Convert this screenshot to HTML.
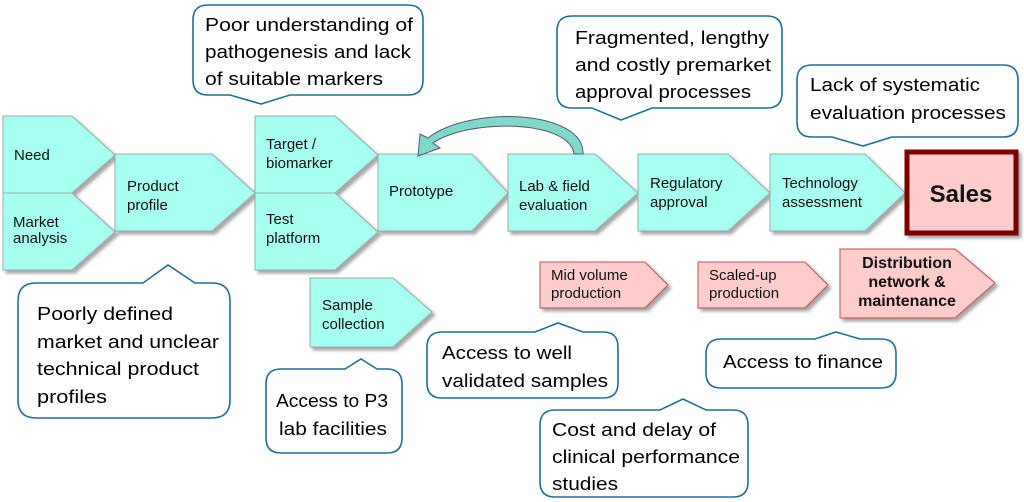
<!DOCTYPE html>
<html><head><meta charset="utf-8"><style>
html,body{margin:0;padding:0;background:#fff;}
svg{display:block;}
.b{fill:#a6fff0;stroke:#9aa;stroke-width:1;}
.p{fill:#ffcccc;stroke:#c05050;stroke-width:1;}
.t{font-family:"Liberation Sans",sans-serif;font-size:15px;fill:#111;}
.c{fill:#fff;stroke:#1f6f9a;stroke-width:1.6;}
.ct{font-family:"Liberation Sans",sans-serif;font-size:18px;fill:#000;}
</style></head><body>
<svg width="1024" height="502" viewBox="0 0 1024 502" xmlns="http://www.w3.org/2000/svg">
<defs><filter id="sh" x="-10%" y="-10%" width="130%" height="130%"><feDropShadow dx="3" dy="3" stdDeviation="1.5" flood-color="#000" flood-opacity="0.35"/></filter></defs>
<g filter="url(#sh)">
<path class="b" d="M3,116 H72 L115,155 L72,193 H3 Z"/>
<path class="b" d="M3,193 H72 L115,232 L72,270 H3 Z"/>
<path class="b" d="M115,154 H212 L255,193 L212,231 H115 Z"/>
<path class="b" d="M255,116 H335 L378,155 L335,193 H255 Z"/>
<path class="b" d="M255,193 H335 L378,232 L335,270 H255 Z"/>
<path class="b" d="M378,154 H472 L508,193 L472,231 H378 Z"/>
<path class="b" d="M508,154 H595 L638,193 L595,231 H508 Z"/>
<path class="b" d="M638,154 H728 L770,193 L728,231 H638 Z"/>
<path class="b" d="M770,154 H865 L905,193 L865,231 H770 Z"/>
<path class="b" d="M310,278 H393 L432,312 L393,347 H310 Z"/>
<path class="p" d="M540,262 H645 L668,285 L645,308 H540 Z"/>
<path class="p" d="M698,262 H805 L828,285 L805,308 H698 Z"/>
<path class="p" d="M840,249 H955 L995,283 L955,318 H840 Z"/>
<rect x="907" y="152" width="109" height="81" fill="#ffcccc" stroke="#7a0000" stroke-width="5"/>
</g>
<path d="M583,154 C585,110 470,105 428,138 L420,134 L418,156 L440,148 L433,143 C470,118 570,120 574,154 Z" fill="#80d8c8" stroke="#557" stroke-width="1"/>
<g class="t">
<text x="14" y="160">Need</text>
<text x="13" y="227">Market</text><text x="13" y="243">analysis</text>
<text x="127" y="191">Product</text><text x="127" y="210">profile</text>
<text x="266" y="149">Target /</text><text x="266" y="168">biomarker</text>
<text x="266" y="224">Test</text><text x="266" y="243">platform</text>
<text x="389" y="196">Prototype</text>
<text x="519" y="191">Lab &amp; field</text><text x="519" y="210">evaluation</text>
<text x="650" y="188">Regulatory</text><text x="650" y="207">approval</text>
<text x="782" y="188">Technology</text><text x="782" y="207">assessment</text>
<text x="322" y="310">Sample</text><text x="322" y="329">collection</text>
<text x="551" y="280">Mid volume</text><text x="551" y="298">production</text>
<text x="709" y="280">Scaled-up</text><text x="709" y="298">production</text>
<g font-weight="bold" text-anchor="middle" font-size="16"><text x="907" y="268">Distribution</text><text x="907" y="287">network &amp;</text><text x="907" y="306">maintenance</text></g>
<text x="961" y="202" font-size="24" font-weight="bold" text-anchor="middle">Sales</text>
</g>
<path class="c" d="M208,5 H408 Q423,5 423,20 V80 Q423,95 408,95 H290 L261,104 L230,95 H208 Q193,95 193,80 V20 Q193,5 208,5 Z"/>
<path class="c" d="M572,16 H767 Q782,16 782,31 V93 Q782,108 767,108 H652 L621,120 L592,108 H572 Q557,108 557,93 V31 Q557,16 572,16 Z"/>
<path class="c" d="M812,65 H1003 Q1018,65 1018,80 V122 Q1018,137 1003,137 H892 L863,146 L832,137 H812 Q797,137 797,122 V80 Q797,65 812,65 Z"/>
<path class="c" d="M36,283 H143 L168,265 L195,283 H212 Q230,283 230,301 V400 Q230,418 212,418 H36 Q18,418 18,400 V301 Q18,283 36,283 Z"/>
<path class="c" d="M281,369 H345 L361,359 L377,369 H387 Q402,369 402,384 V438 Q402,453 387,453 H281 Q266,453 266,438 V384 Q266,369 281,369 Z"/>
<path class="c" d="M442,332 H535 L558,323 L583,332 H603 Q618,332 618,347 V383 Q618,398 603,398 H442 Q427,398 427,383 V347 Q427,332 442,332 Z"/>
<path class="c" d="M555,410 H660 L683,399 L706,410 H733 Q748,410 748,425 V482 Q748,497 733,497 H555 Q540,497 540,482 V425 Q540,410 555,410 Z"/>
<path class="c" d="M721,339 H815 L836,332 L860,339 H881 Q896,339 896,354 V373 Q896,388 881,388 H721 Q706,388 706,373 V354 Q706,339 721,339 Z"/>
<g class="ct">
<text x="205" y="31" textLength="208" lengthAdjust="spacingAndGlyphs">Poor understanding of</text>
<text x="205" y="58" textLength="206" lengthAdjust="spacingAndGlyphs">pathogenesis and lack</text>
<text x="205" y="85" textLength="178" lengthAdjust="spacingAndGlyphs">of suitable markers</text>
<text x="575" y="44" textLength="194" lengthAdjust="spacingAndGlyphs">Fragmented, lengthy</text>
<text x="575" y="71" textLength="196" lengthAdjust="spacingAndGlyphs">and costly premarket</text>
<text x="575" y="98" textLength="176" lengthAdjust="spacingAndGlyphs">approval processes</text>
<text x="810" y="91" textLength="170" lengthAdjust="spacingAndGlyphs">Lack of systematic</text>
<text x="810" y="119" textLength="196" lengthAdjust="spacingAndGlyphs">evaluation processes</text>
<text x="37" y="320" textLength="136" lengthAdjust="spacingAndGlyphs">Poorly defined</text>
<text x="37" y="348" textLength="182" lengthAdjust="spacingAndGlyphs">market and unclear</text>
<text x="37" y="375" textLength="162" lengthAdjust="spacingAndGlyphs">technical product</text>
<text x="37" y="403" textLength="70" lengthAdjust="spacingAndGlyphs">profiles</text>
<text x="276" y="407" textLength="112" lengthAdjust="spacingAndGlyphs">Access to P3</text>
<text x="279" y="435" textLength="108" lengthAdjust="spacingAndGlyphs">lab facilities</text>
<text x="442" y="359" textLength="130" lengthAdjust="spacingAndGlyphs">Access to well</text>
<text x="442" y="387" textLength="166" lengthAdjust="spacingAndGlyphs">validated samples</text>
<text x="552" y="436" textLength="164" lengthAdjust="spacingAndGlyphs">Cost  and delay of</text>
<text x="552" y="463" textLength="188" lengthAdjust="spacingAndGlyphs">clinical performance</text>
<text x="552" y="490" textLength="66" lengthAdjust="spacingAndGlyphs">studies</text>
<text x="723" y="368" textLength="160" lengthAdjust="spacingAndGlyphs">Access to finance</text>
</g>
</svg>
</body></html>
